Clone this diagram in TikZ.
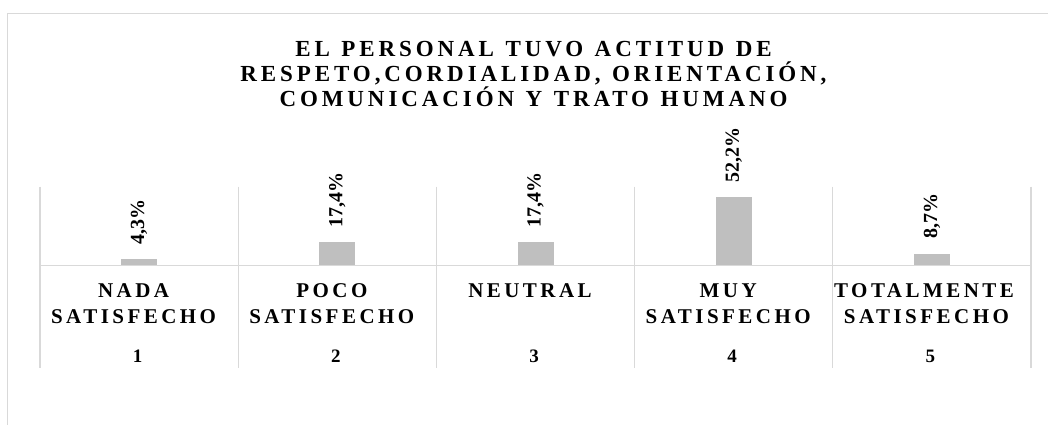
\documentclass[tikz,border=0pt]{standalone}
\usepackage{fontspec}
\setmainfont{Liberation Serif}
\newfontfamily\titlefont[LetterSpace=17]{Liberation Serif}
\newfontfamily\catfont[LetterSpace=16.5]{Liberation Serif}
\definecolor{gridc}{HTML}{D9D9D9}
\definecolor{barc}{HTML}{BFBFBF}
\newcommand{\titlestyle}{\titlefont\bfseries\fontsize{23}{25}\selectfont\spaceskip=0.5em\relax}
\begin{document}
\begin{tikzpicture}[x=1pt,y=-1pt,
  grid/.style={draw=gridc,line width=1.3pt},
  titletext/.style={font=\titlestyle,align=center,inner sep=0pt},
  cattext/.style={font=\catfont\bfseries\fontsize{21}{26}\selectfont,inner sep=0pt,anchor=base},
  numtext/.style={font=\bfseries\fontsize{19}{22}\selectfont,inner sep=0pt,anchor=base},
  valtext/.style={font=\bfseries\fontsize{20}{24}\selectfont,inner sep=0pt,rotate=90,anchor=west}]
\useasboundingbox (0,0) rectangle (1048,424);
\fill[white] (0,0) rectangle (1048,424);
% outer chart border
\draw[grid] (7.3,430) -- (7.3,13.3) -- (1060,13.3);
% title
\node[titletext] (title) at (533.5,73.5) {EL PERSONAL TUVO ACTITUD DE\\RESPETO,CORDIALIDAD, ORIENTACIÓN,\\COMUNICACIÓN Y TRATO HUMANO};
% grid
\foreach \i in {0,...,5} {
  \draw[grid] ({40+198.2*\i},186.7) -- ({40+198.2*\i},368);
}
\draw[grid] (40,265.5) -- (1031,265.5);
% bars and labels
\foreach \i/\v/\t in {1/4.3/{4,3\%},2/17.4/{17,4\%},3/17.4/{17,4\%},4/52.2/{52,2\%},5/8.7/{8,7\%}} {
  \pgfmathsetmacro{\cx}{40+198.2*(\i-0.5)}
  \pgfmathsetmacro{\top}{265-1.297*\v}
  \fill[barc] (\cx-18,265) rectangle (\cx+18,\top);
  \node[valtext] (val\i) at (\cx,\top-15) {\t};
}
\node[cattext] (cat1a) at (133.6,297.3) {NADA};
\node[cattext] (cat1b) at (133.6,323.3) {SATISFECHO};
\node[cattext] (cat2a) at (331.8,297.3) {POCO};
\node[cattext] (cat2b) at (331.8,323.3) {SATISFECHO};
\node[cattext] (cat3a) at (530,297.3) {NEUTRAL};
\node[cattext] (cat4a) at (728.2,297.3) {MUY};
\node[cattext] (cat4b) at (728.2,323.3) {SATISFECHO};
\node[cattext] (cat5a) at (924,297.3) {TOTALMENTE};
\node[cattext] (cat5b) at (926.4,323.3) {SATISFECHO};
\node[numtext] (n1) at (137.6,362) {1};
\node[numtext] (n2) at (335.8,362) {2};
\node[numtext] (n3) at (534,362) {3};
\node[numtext] (n4) at (732.2,362) {4};
\node[numtext] (n5) at (930.4,362) {5};
\end{tikzpicture}
\end{document}
